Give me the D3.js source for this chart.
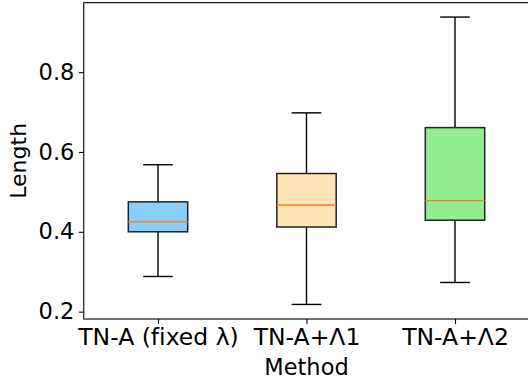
<!DOCTYPE html>
<html>
<head>
<meta charset="utf-8">
<script src="https://cdn.jsdelivr.net/npm/d3@7"></script>
<style>
  body { margin: 0; background: #fff; }
  text { font-family: "DejaVu Sans", sans-serif; fill: #000; font-variant-ligatures: none; }
</style>
</head>
<body>
<script>
// Width and height
var w = 528;
var h = 383;

// data
var methods = ["TN-A (fixed λ)", "TN-A+Λ1", "TN-A+Λ2"];
var whiskerLow = [0.288, 0.218, 0.273];
var q1 = [0.400, 0.412, 0.429];
var median = [0.425, 0.467, 0.478];
var q3 = [0.475, 0.546, 0.661];
var whiskerHigh = [0.568, 0.698, 0.938];
var boxColors = ["#87CEFA", "#FFE4B5", "#90EE90"];
var yTicks = [0.2, 0.4, 0.6, 0.8];

var mLeft = 83.75, mRight = 529.25, mTop = 2.7, mBottom = 319;

var svg = d3.select("body")
  .append("svg")
  .attr("width", w)
  .attr("height", h);

var x = d3.scaleLinear().domain([0.5, 3.5]).range([mLeft, mRight]);
var y = d3.scaleLinear().domain([0.1815, 0.974]).range([mBottom, mTop]);

var boxW = x(1.4) - x(1);   // 0.4 wide boxes
var capW = boxW / 2;

var rows = methods.map(function(m, i) {
  return {name: m, pos: i + 1, lo: whiskerLow[i], q1: q1[i], med: median[i], q3: q3[i], hi: whiskerHigh[i], color: boxColors[i]};
});

var boxes = svg.append("g").attr("class", "boxes")
  .selectAll("g.box")
  .data(rows)
  .enter().append("g")
  .classed("box", true);

// whiskers
boxes.append("line")
  .attr("x1", function(d) { return x(d.pos); })
  .attr("x2", function(d) { return x(d.pos); })
  .attr("y1", function(d) { return y(d.q3); })
  .attr("y2", function(d) { return y(d.hi); })
  .attr("stroke", "#000").attr("stroke-width", 1.4);
boxes.append("line")
  .attr("x1", function(d) { return x(d.pos); })
  .attr("x2", function(d) { return x(d.pos); })
  .attr("y1", function(d) { return y(d.q1); })
  .attr("y2", function(d) { return y(d.lo); })
  .attr("stroke", "#000").attr("stroke-width", 1.4);

// caps
boxes.append("line")
  .attr("x1", function(d) { return x(d.pos) - capW / 2; })
  .attr("x2", function(d) { return x(d.pos) + capW / 2; })
  .attr("y1", function(d) { return y(d.hi); })
  .attr("y2", function(d) { return y(d.hi); })
  .attr("stroke", "#000").attr("stroke-width", 1.4);
boxes.append("line")
  .attr("x1", function(d) { return x(d.pos) - capW / 2; })
  .attr("x2", function(d) { return x(d.pos) + capW / 2; })
  .attr("y1", function(d) { return y(d.lo); })
  .attr("y2", function(d) { return y(d.lo); })
  .attr("stroke", "#000").attr("stroke-width", 1.4);

// the box
boxes.append("rect")
  .attr("x", function(d) { return x(d.pos) - boxW / 2; })
  .attr("y", function(d) { return y(d.q3); })
  .attr("width", boxW)
  .attr("height", function(d) { return y(d.q1) - y(d.q3); })
  .attr("fill", function(d) { return d.color; })
  .attr("stroke", "#222").attr("stroke-width", 1.5);

// median
boxes.append("line")
  .attr("x1", function(d) { return x(d.pos) - boxW / 2; })
  .attr("x2", function(d) { return x(d.pos) + boxW / 2; })
  .attr("y1", function(d) { return y(d.med); })
  .attr("y2", function(d) { return y(d.med); })
  .attr("stroke", "#ff7f0e").attr("stroke-width", 1.4);

// axes
var yAxis = d3.axisLeft(y).tickValues(yTicks).tickFormat(d3.format(".1f"))
  .tickSize(4.9).tickPadding(4.5);
var gy = svg.append("g").attr("transform", "translate(" + mLeft + ",0)").call(yAxis);

var xAxis = d3.axisBottom(x).tickValues([1, 2, 3])
  .tickFormat(function(d) { return methods[d - 1]; })
  .tickSize(4.9).tickPadding(4.5);
var gx = svg.append("g").attr("transform", "translate(0," + mBottom + ")").call(xAxis);

[gx, gy].forEach(function(g) {
  g.select(".domain").remove();
  g.selectAll(".tick line").attr("stroke", "#000").attr("stroke-width", 1.1);
  g.selectAll(".tick text").attr("fill", "#000");
});
gy.selectAll(".tick text").style("font-size", "22.5px");
gx.selectAll(".tick text").style("font-size", "23.5px");

// frame
svg.append("rect")
  .attr("x", mLeft).attr("y", mTop)
  .attr("width", mRight - mLeft).attr("height", mBottom - mTop)
  .attr("fill", "none").attr("stroke", "#000").attr("stroke-width", 1.1);

// labels
svg.append("text")
  .attr("x", (mLeft + mRight) / 2)
  .attr("y", 375)
  .attr("text-anchor", "middle")
  .style("font-size", "22.5px")
  .text("Method");

svg.append("text")
  .attr("transform", "translate(26," + ((mTop + mBottom) / 2) + ") rotate(-90)")
  .attr("text-anchor", "middle")
  .style("font-size", "22px")
  .text("Length");
</script>
</body>
</html>
